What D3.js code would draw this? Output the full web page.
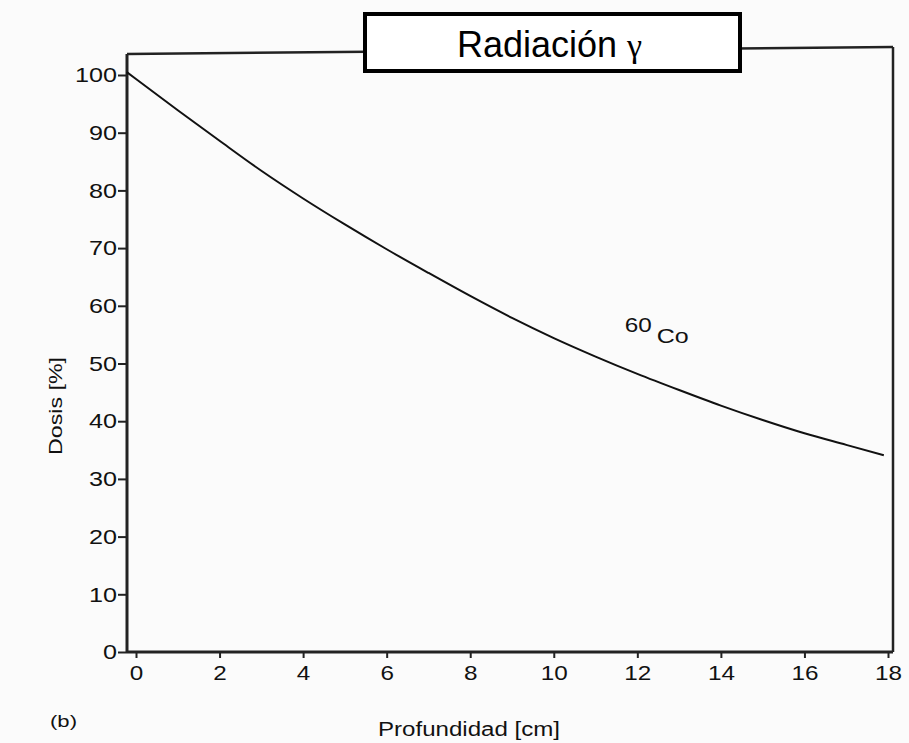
<!DOCTYPE html>
<html><head><meta charset="utf-8">
<script src="https://cdn.jsdelivr.net/npm/d3@7"></script>
<style>body{margin:0;background:#fff;}svg{display:block;}</style>
</head><body>
<svg id="c" width="909" height="743"></svg>
<script>
const depth = [-0.22, 0, 1, 2, 3, 4, 5, 6, 7, 8, 9, 10, 11, 12, 13, 14, 15, 16, 17, 17.9];
const dose  = [100.5, 99.3, 93.9, 88.6, 83.4, 78.6, 74.1, 69.8, 65.7, 61.7, 57.9, 54.4, 51.2, 48.2, 45.4, 42.7, 40.2, 37.9, 35.9, 34.1];
const xTicks = [0, 2, 4, 6, 8, 10, 12, 14, 16, 18];
const yTicks = [0, 10, 20, 30, 40, 50, 60, 70, 80, 90, 100];
const titleMain = "Radiación ";
const titleSym = "γ";
const seriesLabel = {iso: "60", el: "Co"};

const svg = d3.select("#c");
svg.append("rect").attr("width",909).attr("height",743).attr("fill","#fbfbfb");
const x = d3.scaleLinear().domain([0,18]).range([136,888]);
const y = d3.scaleLinear().domain([0,100]).range([652,75]);
const pL = 127, pR = 893, pTL = 54, pTR = 47, pB = 652;
const font = "Arial, 'Liberation Sans', sans-serif";

// frame
svg.append("line").attr("x1",pL).attr("x2",pR).attr("y1",pTL).attr("y2",pTR).attr("stroke","#222").attr("stroke-width",2.5);
svg.append("line").attr("x1",pR).attr("x2",pR).attr("y1",pTR).attr("y2",pB).attr("stroke","#222").attr("stroke-width",2.5);

// x axis
const xa = svg.append("g").attr("transform",`translate(0,${pB})`)
  .call(d3.axisBottom(x).tickValues(xTicks).tickSize(6).tickSizeOuter(0).tickPadding(7));
xa.select(".domain").remove();
xa.append("line").attr("x1",pL).attr("x2",pR).attr("stroke","#222").attr("stroke-width",3);
xa.selectAll(".tick line").attr("stroke","#222").attr("stroke-width",2);
xa.selectAll(".tick text").attr("font-family",font).attr("font-size",21).attr("fill","#111")
  .attr("textLength",d=>String(d).length*13.5).attr("lengthAdjust","spacingAndGlyphs");

// y axis
const ya = svg.append("g").attr("transform",`translate(${pL},0)`)
  .call(d3.axisLeft(y).tickValues(yTicks).tickSize(9).tickSizeOuter(0).tickPadding(1));
ya.select(".domain").remove();
ya.append("line").attr("y1",pTL).attr("y2",pB).attr("stroke","#222").attr("stroke-width",3);
ya.selectAll(".tick line").attr("stroke","#222").attr("stroke-width",2);
ya.selectAll(".tick text").attr("font-family",font).attr("font-size",21).attr("fill","#111")
  .attr("textLength",d=>String(d).length*14).attr("lengthAdjust","spacingAndGlyphs");

// curve
const line = d3.line().x((d,i)=>x(depth[i])).y(d=>y(d)).curve(d3.curveMonotoneX);
svg.append("path").attr("d",line(dose)).attr("fill","none").attr("stroke","#111").attr("stroke-width",2);

// series label
const lab = svg.append("text").attr("x",x(11.7)).attr("y",y(55.5)).attr("font-family",font).attr("fill","#111");
lab.append("tspan").attr("font-size",20).attr("textLength",27).attr("lengthAdjust","spacingAndGlyphs").text(seriesLabel.iso);
lab.append("tspan").attr("font-size",21).attr("dy",11).attr("dx",5).attr("textLength",32).attr("lengthAdjust","spacingAndGlyphs").text(seriesLabel.el);

// axis titles
svg.append("text").attr("transform","translate(62,406) rotate(-90)").attr("text-anchor","middle")
  .attr("font-family",font).attr("font-size",18).attr("fill","#111")
  .attr("textLength",98).attr("lengthAdjust","spacingAndGlyphs").text("Dosis [%]");
svg.append("text").attr("x",378).attr("y",736)
  .attr("font-family",font).attr("font-size",20).attr("fill","#111")
  .attr("textLength",182).attr("lengthAdjust","spacingAndGlyphs").text("Profundidad [cm]");
svg.append("text").attr("x",50).attr("y",727)
  .attr("font-family",font).attr("font-size",17).attr("fill","#111")
  .attr("textLength",27).attr("lengthAdjust","spacingAndGlyphs").text("(b)");

// title box
svg.append("rect").attr("x",365).attr("y",14).attr("width",375).attr("height",57)
  .attr("fill","#fff").attr("stroke","#000").attr("stroke-width",4);
const tt = svg.append("text").attr("x",457).attr("y",57)
  .attr("font-family",font).attr("font-size",36).attr("fill","#000");
tt.append("tspan").text(titleMain);
tt.append("tspan").attr("font-family","'Liberation Serif', 'DejaVu Serif', serif").attr("font-size",34).text(titleSym);
</script>
</body></html>
